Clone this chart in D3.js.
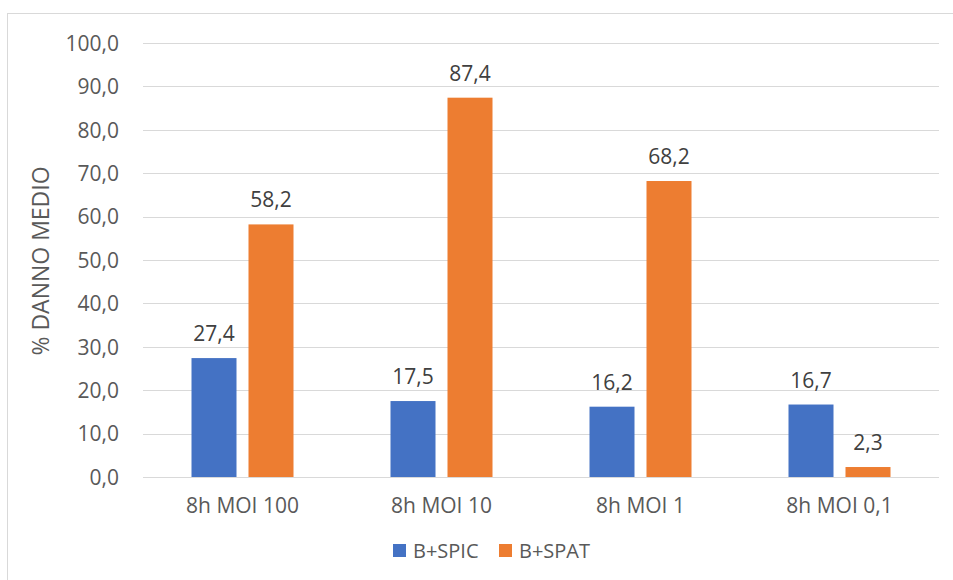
<!DOCTYPE html>
<html>
<head>
<meta charset="utf-8">
<script src="https://cdn.jsdelivr.net/npm/d3@7/dist/d3.min.js"></script>
<style>
  html, body { margin: 0; padding: 0; background: #fff; }
  svg text { font-family: "Open Sans", "Liberation Sans", sans-serif; fill: #595959; }
</style>
</head>
<body>
<svg id="chart" width="953" height="580"></svg>
<script>
const categories = ["8h MOI 100", "8h MOI 10", "8h MOI 1", "8h MOI 0,1"];
const seriesNames = ["B+SPIC", "B+SPAT"];
const spicValues = [27.4, 17.5, 16.2, 16.7];
const spatValues = [58.2, 87.4, 68.2, 2.3];
const yTicks = [0, 10, 20, 30, 40, 50, 60, 70, 80, 90, 100];
const colors = ["#4472C4", "#ED7D31"];

const fmt = v => v.toFixed(1).replace(".", ",");

const svg = d3.select("#chart");
const plot = { left: 143, right: 939, top: 43, bottom: 477 };

// outer chart frame
svg.append("rect")
  .attr("x", 7.5).attr("y", 13.5)
  .attr("width", 960).attr("height", 600)
  .attr("fill", "none").attr("stroke", "#d9d9d9").attr("stroke-width", 1);

const x = d3.scaleBand().domain(categories).range([plot.left, plot.right]);
const y = d3.scaleLinear().domain([0, 100]).range([plot.bottom, plot.top]);

// horizontal gridlines
svg.append("g")
  .selectAll("line")
  .data(yTicks)
  .join("line")
  .attr("x1", plot.left).attr("x2", plot.right)
  .attr("y1", d => Math.round(y(d)) + 0.5).attr("y2", d => Math.round(y(d)) + 0.5)
  .attr("stroke", "#d9d9d9").attr("stroke-width", 1);

// y axis labels
const yAxis = d3.axisLeft(y).tickValues(yTicks).tickFormat(fmt).tickSize(0).tickPadding(0);
const yg = svg.append("g").attr("transform", `translate(${plot.left - 24},0)`).call(yAxis);
yg.select(".domain").remove();
yg.selectAll("text").attr("font-size", 21).attr("dy", "0.35em")
  .style("font-family", "'Open Sans', 'Liberation Sans', sans-serif").attr("fill", "#595959");

// x axis labels
const xAxis = d3.axisBottom(x).tickSize(0).tickPadding(0);
const xg = svg.append("g").attr("transform", `translate(0,${plot.bottom + 21})`).call(xAxis);
xg.select(".domain").remove();
xg.selectAll("text").attr("font-size", 21).attr("dy", "0.71em")
  .style("font-family", "'Open Sans', 'Liberation Sans', sans-serif").attr("fill", "#595959");

// axis title
svg.append("text")
  .attr("transform", `translate(49,261) rotate(-90)`)
  .attr("text-anchor", "middle")
  .attr("font-size", 23)
  .text("% DANNO MEDIO");

// bars
const barW = 45, gap = 12;
const series = [spicValues, spatValues];
series.forEach((vals, si) => {
  const offset = si === 0 ? -(gap / 2 + barW) : gap / 2;
  const g = svg.append("g");
  g.selectAll("rect")
    .data(vals)
    .join("rect")
    .attr("x", (d, i) => x(categories[i]) + x.bandwidth() / 2 + offset)
    .attr("y", d => y(d))
    .attr("width", barW)
    .attr("height", d => y(0) - y(d))
    .attr("fill", colors[si]);
  g.selectAll("text")
    .data(vals)
    .join("text")
    .attr("x", (d, i) => x(categories[i]) + x.bandwidth() / 2 + offset + barW / 2)
    .attr("y", d => y(d) - 17)
    .attr("text-anchor", "middle")
    .attr("font-size", 21)
    .style("fill", "#404040")
    .text(fmt);
});

// legend
const legend = svg.append("g");
const legendItems = [{ name: seriesNames[0], x: 393 }, { name: seriesNames[1], x: 499 }];
legendItems.forEach((item, i) => {
  legend.append("rect").attr("x", item.x).attr("y", 544).attr("width", 13).attr("height", 13).attr("fill", colors[i]);
  legend.append("text").attr("x", item.x + 20).attr("y", 558).attr("font-size", 20).text(item.name);
});
</script>
</body>
</html>
